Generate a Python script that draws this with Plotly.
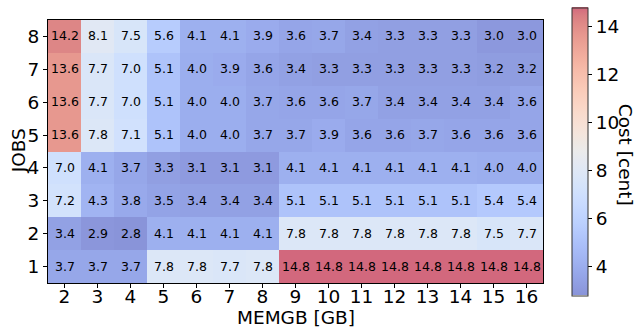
import plotly.graph_objects as go

memgb = [2, 3, 4, 5, 6, 7, 8, 9, 10, 11, 12, 13, 14, 15, 16]
jobs = [1, 2, 3, 4, 5, 6, 7, 8]

cost_j1 = [3.7, 3.7, 3.7, 7.8, 7.8, 7.7, 7.8, 14.8, 14.8, 14.8, 14.8, 14.8, 14.8, 14.8, 14.8]
cost_j2 = [3.4, 2.9, 2.8, 4.1, 4.1, 4.1, 4.1, 7.8, 7.8, 7.8, 7.8, 7.8, 7.8, 7.5, 7.7]
cost_j3 = [7.2, 4.3, 3.8, 3.5, 3.4, 3.4, 3.4, 5.1, 5.1, 5.1, 5.1, 5.1, 5.1, 5.4, 5.4]
cost_j4 = [7.0, 4.1, 3.7, 3.3, 3.1, 3.1, 3.1, 4.1, 4.1, 4.1, 4.1, 4.1, 4.1, 4.0, 4.0]
cost_j5 = [13.6, 7.8, 7.1, 5.1, 4.0, 4.0, 3.7, 3.7, 3.9, 3.6, 3.6, 3.7, 3.6, 3.6, 3.6]
cost_j6 = [13.6, 7.7, 7.0, 5.1, 4.0, 4.0, 3.7, 3.6, 3.6, 3.7, 3.4, 3.4, 3.4, 3.4, 3.6]
cost_j7 = [13.6, 7.7, 7.0, 5.1, 4.0, 3.9, 3.6, 3.4, 3.3, 3.3, 3.3, 3.3, 3.3, 3.2, 3.2]
cost_j8 = [14.2, 8.1, 7.5, 5.6, 4.1, 4.1, 3.9, 3.6, 3.7, 3.4, 3.3, 3.3, 3.3, 3.0, 3.0]

z = [cost_j1, cost_j2, cost_j3, cost_j4, cost_j5, cost_j6, cost_j7, cost_j8]

x_title = "MEMGB [GB]"
y_title = "JOBS"
cbar_title = "Cost [cent]"
cbar_ticks = [4, 6, 8, 10, 12, 14]

# matplotlib coolwarm, blended with white at alpha 0.6
cw = [
    (59, 76, 192), (68, 90, 204), (77, 104, 215), (87, 117, 225), (98, 130, 234),
    (108, 142, 241), (119, 154, 247), (130, 165, 251), (141, 176, 254), (152, 185, 255),
    (163, 194, 255), (174, 201, 253), (184, 208, 249), (194, 213, 244), (204, 217, 238),
    (213, 219, 230), (221, 221, 221), (229, 216, 209), (236, 211, 197), (241, 204, 185),
    (245, 196, 173), (247, 187, 160), (247, 177, 148), (247, 166, 135), (244, 154, 123),
    (241, 141, 111), (236, 127, 99), (229, 112, 88), (222, 96, 77), (213, 80, 66),
    (203, 62, 56), (192, 40, 47), (180, 4, 38),
]
alpha = 0.6
colorscale = []
n = len(cw) - 1
for i, (r, g, b) in enumerate(cw):
    rr = round(255 * (1 - alpha) + r * alpha)
    gg = round(255 * (1 - alpha) + g * alpha)
    bb = round(255 * (1 - alpha) + b * alpha)
    colorscale.append([i / n, f"rgb({rr},{gg},{bb})"])

font = "DejaVu Sans"
fs = 18.5

fig = go.Figure(
    go.Heatmap(
        x=memgb,
        y=jobs,
        z=z,
        zmin=2.8,
        zmax=14.8,
        colorscale=colorscale,
        texttemplate="%{z:.1f}",
        textfont=dict(family=font, size=12.5, color="black"),
        xgap=0,
        ygap=0,
        colorbar=dict(
            thickness=16,
            len=1.095,
            lenmode="fraction",
            x=1.0586,
            xanchor="left",
            xpad=0,
            y=0.5,
            yanchor="middle",
            ypad=0,
            outlinecolor="#333",
            outlinewidth=1,
            ticks="outside",
            ticklen=4,
            tickwidth=1,
            tickcolor="black",
            tickvals=cbar_ticks,
            tickfont=dict(family=font, size=fs, color="black"),
        ),
    )
)

fig.update_layout(
    width=636,
    height=327,
    margin=dict(l=48, r=93, t=20, b=44, autoexpand=False),
    paper_bgcolor="white",
    plot_bgcolor="white",
    font=dict(family=font, size=fs, color="black"),
    annotations=[
        dict(text=x_title, xref="paper", yref="paper", x=0.5, y=-0.13,
             xanchor="center", yanchor="middle", showarrow=False,
             font=dict(family=font, size=fs, color="black")),
        dict(text=y_title, xref="paper", yref="paper", x=-0.058, y=0.502,
             xanchor="center", yanchor="middle", showarrow=False, textangle=-90,
             font=dict(family=font, size=fs, color="black")),
        dict(text=cbar_title, xref="paper", yref="paper", x=1.166, y=0.487,
             xanchor="center", yanchor="middle", showarrow=False, textangle=90,
             font=dict(family=font, size=fs, color="black")),
    ],
)
fig.update_xaxes(
    tickvals=memgb,
    ticks="outside",
    ticklen=4,
    tickcolor="black",
    ticklabelstandoff=-7,
    tickfont=dict(family=font, size=fs, color="black"),
    showline=True,
    linecolor="black",
    linewidth=1.2,
    mirror=True,
    showgrid=False,
    zeroline=False,
    automargin=False,
)
fig.update_yaxes(
    tickvals=jobs,
    ticks="outside",
    ticklen=4,
    tickcolor="black",
    tickfont=dict(family=font, size=fs, color="black"),
    showline=True,
    linecolor="black",
    linewidth=1.2,
    mirror=True,
    showgrid=False,
    zeroline=False,
    automargin=False,
)

fig.write_html(
    "out.html",
    config={"displayModeBar": False},
    post_script="document.body.style.margin='0';",
)
